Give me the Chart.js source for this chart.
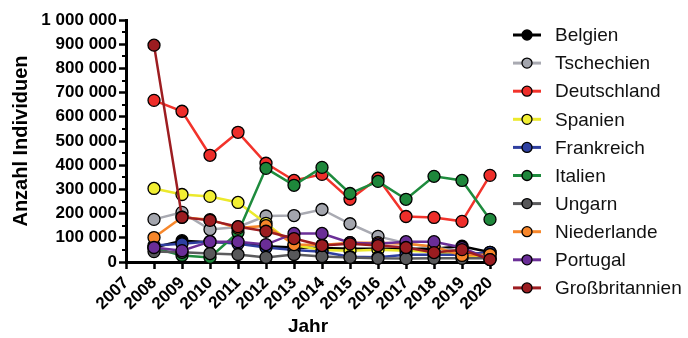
<!DOCTYPE html>
<html><head><meta charset="utf-8">
<script src="https://cdn.jsdelivr.net/npm/chart.js@4.4.1/dist/chart.umd.min.js"></script>
<style>html,body{margin:0;padding:0;background:#fff}#wrap{width:688px;height:338px;position:relative}</style>
</head><body><div id="wrap"><canvas id="c" width="688" height="338"></canvas></div>
<script>
const years = [2008,2009,2010,2011,2012,2013,2014,2015,2016,2017,2018,2019,2020];
const seriesNames = ["Belgien","Tschechien","Deutschland","Spanien","Frankreich","Italien","Ungarn","Niederlande","Portugal","Großbritannien"];
const belgien        = [60000, 88000, 82000, 82000, 65000, 60000, 58000, 55000, 55000, 55000, 55000, 65000, 40000];
const tschechien     = [176000,205000,134000,145000,190000,192000,217000,158000,106000, 78000, 60000, 42000, 30000];
const deutschland    = [668000,623000,441000,536000,408000,337000,362000,259000,346000,188000,184000,168000,358000];
const spanien        = [304000,279000,271000,246000,160000, 70000, 50000, 47000, 51000, 47000, 40000, 30000, 15000];
const frankreich     = [68000, 75000, 85000, 75000, 60000, 50000, 42000, 22000, 20000, 30000, 30000, 30000, 40000];
const italien        = [58000, 27000, 19000,122000,387000,317000,391000,283000,333000,259000,354000,337000,176000];
const ungarn         = [43000, 40000, 35000, 31000, 19000, 31000, 23000, 19000, 15000, 14000, 15000, 15000, 15000];
const niederlande    = [101000,185000,175000,140000,150000, 72000, 70000, 80000, 80000, 75000, 64000, 27000, 31000];
const portugal       = [60000, 47000, 84000, 84000, 72000,118000,118000, 80000, 75000, 84000, 84000, 60000, 10000];
const grossbritannien= [896000,185000,172000,146000,127000, 97000, 68000, 75000, 68000, 60000, 39000, 51000, 10000];
const yTicks = [0,100000,200000,300000,400000,500000,600000,700000,800000,900000,1000000];

const allSeries = [belgien,tschechien,deutschland,spanien,frankreich,italien,ungarn,niederlande,portugal,grossbritannien];
const lineColors = ["#000000","#A9AAB2","#F2332B","#ECE92C","#2F3F9F","#1E8B3D","#5B5B5D","#F7872B","#6B2F97","#9D1D21"];
const fillColors = ["#000000","#A3A5AD","#EE2E2A","#F2EF33","#2E40A2","#1E873B","#58585A","#F7862A","#6A2D97","#9B1C20"];

function fmt(v){return String(v).replace(/\B(?=(\d{3})+(?!\d))/g,' ');}

const datasets = allSeries.map((arr,i)=>({
  label: seriesNames[i],
  data: years.map((y,j)=>({x:y,y:arr[j]})),
  borderColor: lineColors[i],
  backgroundColor: fillColors[i],
  pointBackgroundColor: fillColors[i],
  pointBorderColor: '#000',
  pointBorderWidth: 1.3,
  pointRadius: 6,
  borderWidth: 2.5,
  tension: 0,
  clip: false,
  order: 20 - i
}));

const minorTicks = {
  id:'minorTicks',
  afterDraw(chart){
    const ctx = chart.ctx, y = chart.scales.y, left = chart.chartArea.left;
    ctx.save(); ctx.strokeStyle='#000'; ctx.lineWidth=2;
    for(let v=50000; v<1000000; v+=100000){
      const p = Math.round(y.getPixelForValue(v));
      ctx.beginPath(); ctx.moveTo(left-4,p); ctx.lineTo(left,p); ctx.stroke();
    }
    ctx.restore();
  }
};
const legendPlugin = {
  id:'customLegend',
  afterDraw(chart){
    const ctx = chart.ctx;
    ctx.save();
    ctx.font = '19px "Liberation Sans", Arial, sans-serif';
    ctx.textBaseline = 'middle';
    seriesNames.forEach((n,i)=>{
      const cy = 35 + i*28.1;
      ctx.strokeStyle = lineColors[i]; ctx.lineWidth = 3;
      ctx.beginPath(); ctx.moveTo(513,cy); ctx.lineTo(541,cy); ctx.stroke();
      ctx.beginPath(); ctx.arc(527,cy,5,0,Math.PI*2);
      ctx.fillStyle = fillColors[i]; ctx.fill();
      ctx.lineWidth = 1.3; ctx.strokeStyle='#000'; ctx.stroke();
      ctx.fillStyle = '#111';
      ctx.fillText(n, 555, cy+1);
    });
    ctx.restore();
  }
};

new Chart(document.getElementById('c'), {
  type:'line',
  data:{datasets},
  options:{
    responsive:false, animation:false,
    layout:{padding:{top:20,right:198,left:0,bottom:0}},
    plugins:{legend:{display:false},tooltip:{enabled:false}},
    scales:{
      x:{type:'linear',min:2007,max:2020,
        afterFit(s){s.height=76;},
        border:{color:'#000',width:3},
        grid:{display:true,drawOnChartArea:false,drawTicks:true,tickLength:7,tickWidth:2.5,tickColor:'#000'},
        ticks:{stepSize:1,autoSkip:false,maxRotation:45,minRotation:45,color:'#000',padding:4,
          font:{family:'"Liberation Sans", Arial, sans-serif',size:17,weight:'bold'},
          callback:v=>String(v)},
        title:{display:true,text:'Jahr',color:'#000',padding:{top:0,bottom:0},
          font:{family:'"Liberation Sans", Arial, sans-serif',size:19,weight:'bold'}}
      },
      y:{type:'linear',min:0,max:1000000,
        afterFit(s){s.width=126;},
        afterBuildTicks(s){s.ticks = yTicks.map(v=>({value:v}));},
        border:{color:'#000',width:3},
        grid:{display:true,drawOnChartArea:false,drawTicks:true,tickLength:7,tickWidth:2.5,tickColor:'#000'},
        ticks:{color:'#000',padding:2,
          font:{family:'"Liberation Sans", Arial, sans-serif',size:17,weight:'bold'},
          callback:v=>fmt(v)},
        title:{display:true,text:'Anzahl Individuen',color:'#000',padding:{top:9,bottom:0},
          font:{family:'"Liberation Sans", Arial, sans-serif',size:20,weight:'bold'}}
      }
    }
  },
  plugins:[minorTicks,legendPlugin]
});
</script></body></html>
